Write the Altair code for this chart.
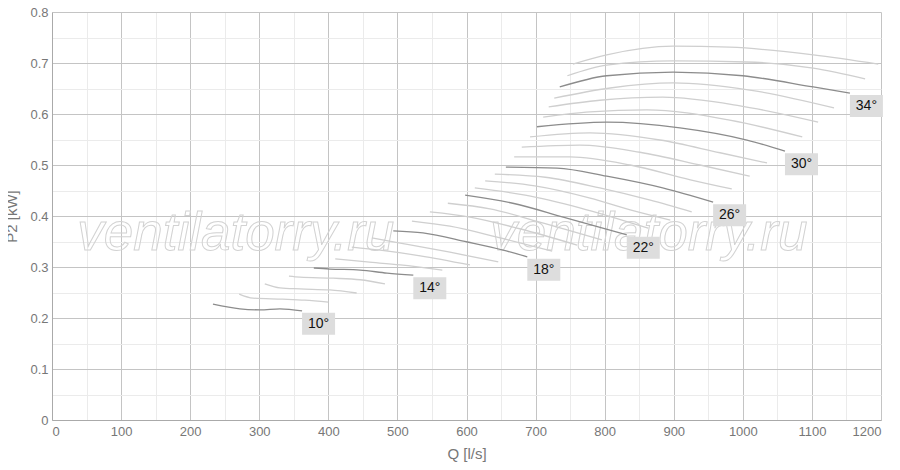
import altair as alt
import pandas as pd

# ---- curve data: Q [l/s], P2 [kW] for each blade angle ----
q10 = [233, 272, 301, 330, 362]
p10 = [0.227, 0.218, 0.216, 0.218, 0.214]
q11 = [271, 291, 334, 366, 400]
p11 = [0.247, 0.239, 0.237, 0.235, 0.231]
q12 = [308, 330, 359, 402, 441]
p12 = [0.267, 0.259, 0.257, 0.255, 0.249]
q13 = [343, 359, 407, 446, 482]
p13 = [0.282, 0.280, 0.278, 0.275, 0.267]
q14 = [379, 402, 446, 485, 523]
p14 = [0.298, 0.296, 0.294, 0.288, 0.284]
q15 = [410, 456, 504, 565]
p15 = [0.316, 0.310, 0.304, 0.294]
q16 = [434, 475, 533, 605]
p16 = [0.339, 0.333, 0.322, 0.304]
q17 = [463, 504, 576, 646]
p17 = [0.357, 0.347, 0.329, 0.310]
q18 = [494, 537, 601, 653, 688]
p18 = [0.371, 0.367, 0.349, 0.333, 0.320]
q19 = [521, 576, 649, 724]
p19 = [0.390, 0.380, 0.357, 0.331]
q20 = [547, 605, 677, 760]
p20 = [0.408, 0.398, 0.375, 0.343]
q21 = [573, 634, 706, 796]
p21 = [0.425, 0.414, 0.388, 0.353]
q22 = [598, 667, 740, 832]
p22 = [0.441, 0.425, 0.398, 0.363]
q23 = [612, 685, 764, 863]
p23 = [0.455, 0.441, 0.416, 0.376]
q24 = [627, 699, 779, 837, 895]
p24 = [0.469, 0.459, 0.435, 0.412, 0.392]
q25 = [641, 714, 793, 866, 926]
p25 = [0.482, 0.476, 0.455, 0.431, 0.408]
q26 = [657, 731, 803, 884, 957]
p26 = [0.496, 0.494, 0.478, 0.455, 0.427]
q27 = [669, 750, 837, 924, 984]
p27 = [0.516, 0.516, 0.500, 0.471, 0.453]
q28 = [680, 764, 851, 938, 1010]
p28 = [0.535, 0.539, 0.525, 0.500, 0.478]
q29 = [692, 779, 880, 967, 1035]
p29 = [0.555, 0.563, 0.549, 0.524, 0.504]
q30 = [702, 803, 909, 1006, 1061]
p30 = [0.575, 0.584, 0.573, 0.549, 0.527]
q31 = [711, 779, 861, 981, 1086]
p31 = [0.594, 0.604, 0.608, 0.588, 0.555]
q32 = [719, 793, 884, 996, 1109]
p32 = [0.614, 0.627, 0.633, 0.616, 0.584]
q33 = [727, 808, 899, 1010, 1132]
p33 = [0.631, 0.651, 0.661, 0.647, 0.612]
q34 = [735, 803, 899, 1000, 1102, 1155]
p34 = [0.653, 0.675, 0.682, 0.675, 0.653, 0.641]
q35 = [746, 803, 899, 1006, 1102, 1177]
p35 = [0.675, 0.696, 0.704, 0.702, 0.690, 0.669]
q36 = [754, 803, 899, 981, 1102, 1196]
p36 = [0.698, 0.716, 0.733, 0.731, 0.716, 0.698]

labelled_angles = [10, 14, 18, 22, 26, 30, 34]

x_major = list(range(0, 1201, 100))
x_minor = list(range(50, 1200, 100))
y_major = [0, 0.1, 0.2, 0.3, 0.4, 0.5, 0.6, 0.7, 0.8]
y_minor = [0.05, 0.15, 0.25, 0.35, 0.45, 0.55, 0.65, 0.75]

wm_text = ["ventilatorry.ru", "ventilatorry.ru"]
wm_q = [266, 864]
wm_p = [0.333, 0.333]

# ---- build tables ----
curves = {
    10: (q10, p10), 11: (q11, p11), 12: (q12, p12), 13: (q13, p13),
    14: (q14, p14), 15: (q15, p15), 16: (q16, p16), 17: (q17, p17),
    18: (q18, p18), 19: (q19, p19), 20: (q20, p20), 21: (q21, p21),
    22: (q22, p22), 23: (q23, p23), 24: (q24, p24), 25: (q25, p25),
    26: (q26, p26), 27: (q27, p27), 28: (q28, p28), 29: (q29, p29),
    30: (q30, p30), 31: (q31, p31), 32: (q32, p32), 33: (q33, p33),
    34: (q34, p34), 35: (q35, p35), 36: (q36, p36),
}
rows = []
for a, (qs, ps) in curves.items():
    for i, (q, p) in enumerate(zip(qs, ps)):
        rows.append({"angle": a, "q": q, "p": p, "i": i,
                     "major": a in labelled_angles})
df = pd.DataFrame(rows)

lab = pd.DataFrame({
    "angle": labelled_angles,
    "q": [curves[a][0][-1] for a in labelled_angles],
    "p": [curves[a][1][-1] for a in labelled_angles],
    "label": [f"{a}°" for a in labelled_angles],
})
wm = pd.DataFrame({"q": wm_q, "p": wm_p, "t": wm_text})

xs = alt.Scale(domain=[0, 1200], nice=False, zero=False)
ys = alt.Scale(domain=[0, 0.8], nice=False, zero=False)

GREY_TXT = "#777777"
FONT = "Liberation Sans"

minor_x_axis = alt.Axis(values=x_minor, grid=True, gridColor="#ebebeb",
                        labels=False, ticks=False, domain=False, title=None,
                        orient="bottom")
minor_y_axis = alt.Axis(values=y_minor, grid=True, gridColor="#ebebeb",
                        labels=False, ticks=False, domain=False, title=None,
                        orient="left")
major_x_axis = alt.Axis(values=x_major, format="d", grid=True, gridColor="#c4c4c4",
                        ticks=False, domain=True, domainColor="#aaaaaa",
                        labelColor=GREY_TXT, labelFontSize=13,
                        labelFont=FONT, labelPadding=5,
                        title="Q [l/s]", titleColor=GREY_TXT, titleFontSize=15,
                        titleFontWeight="normal", titleFont=FONT,
                        titlePadding=8, orient="bottom")
major_y_axis = alt.Axis(values=y_major, format=".1~f", grid=True, gridColor="#c4c4c4",
                        ticks=False, domain=True, domainColor="#aaaaaa",
                        labelColor=GREY_TXT, labelFontSize=13,
                        labelFont=FONT, labelPadding=4,
                        title="P2 [kW]", titleColor=GREY_TXT, titleFontSize=15,
                        titleFontWeight="normal", titleFont=FONT,
                        titlePadding=10, orient="left")

base = alt.Chart(df)

watermark = alt.Chart(wm).mark_text(
    fontSize=53, fontStyle="italic", font=FONT,
    fillOpacity=0, stroke="#d2d2d2", strokeWidth=1,
    align="center", baseline="alphabetic",
).encode(
    x=alt.X("q:Q", scale=xs, axis=minor_x_axis),
    y=alt.Y("p:Q", scale=ys, axis=minor_y_axis),
    text="t:N",
)

light = base.transform_filter("!datum.major").mark_line(
    interpolate="monotone", strokeWidth=1.3, color="#cfcfcf"
).encode(
    x=alt.X("q:Q", scale=xs, axis=major_x_axis),
    y=alt.Y("p:Q", scale=ys, axis=major_y_axis),
    detail="angle:N",
    order="i:Q",
)

dark = base.transform_filter("datum.major").mark_line(
    interpolate="monotone", strokeWidth=1.3, color="#8c8c8c"
).encode(
    x=alt.X("q:Q", scale=xs, axis=None),
    y=alt.Y("p:Q", scale=ys, axis=None),
    detail="angle:N",
    order="i:Q",
)

boxes = alt.Chart(lab).mark_rect(
    color="#dddddd", xOffset=0, x2Offset=33, yOffset=2, y2Offset=24
).encode(
    x=alt.X("q:Q", scale=xs, axis=None),
    x2="q:Q",
    y=alt.Y("p:Q", scale=ys, axis=None),
    y2="p:Q",
)

texts = alt.Chart(lab).mark_text(
    dx=16.5, dy=13, fontSize=14, color="#111111", font=FONT,
    align="center", baseline="middle",
).encode(
    x=alt.X("q:Q", scale=xs, axis=None),
    y=alt.Y("p:Q", scale=ys, axis=None),
    text="label:N",
)

chart = alt.layer(watermark, light, dark, boxes, texts).resolve_axis(
    x="independent", y="independent"
).properties(
    width=829, height=408,
    padding={"left": 44, "top": 4, "right": 11, "bottom": 50},
    autosize="none",
).configure_view(stroke=None).configure_axis(
    labelFont=FONT, titleFont=FONT
)

chart.save("out.html", embed_options={"renderer": "svg", "actions": False})
